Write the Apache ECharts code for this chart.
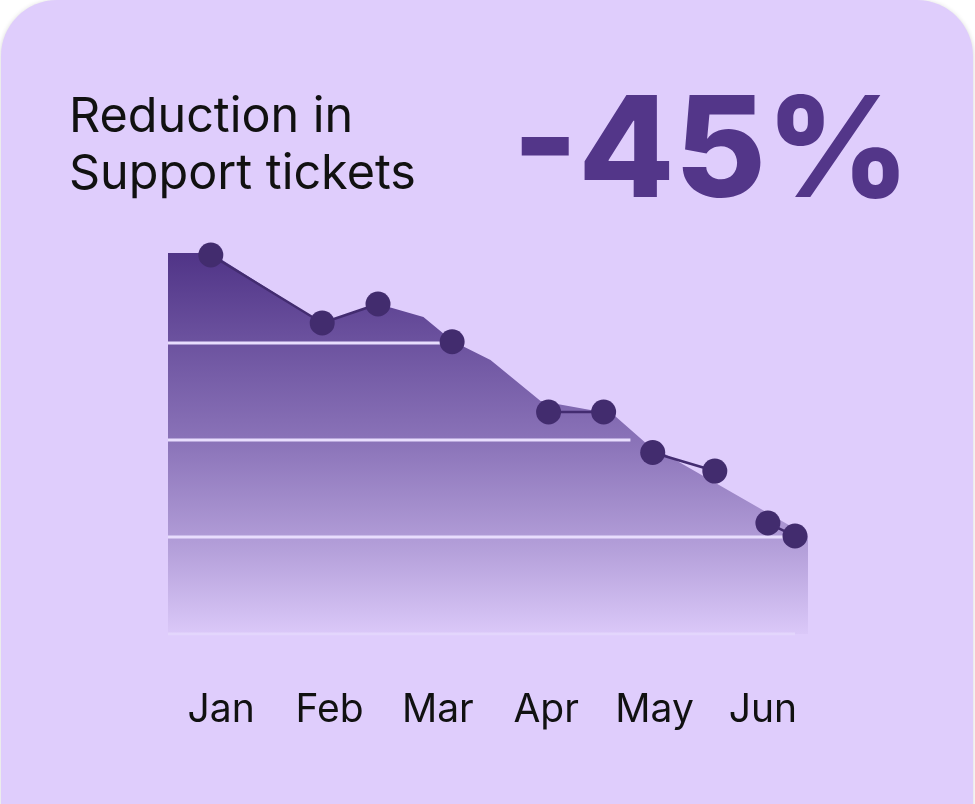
<!DOCTYPE html>
<html>
<head>
<meta charset="utf-8">
<script src="https://cdn.jsdelivr.net/npm/echarts@6/dist/echarts.min.js"></script>
<style>
  html, body { margin: 0; padding: 0; background: #ffffff; }
  #chart { width: 975px; height: 804px; }
</style>
</head>
<body>
<div id="chart"></div>
<script>
// ---- data ----
const months = ['Jan', 'Feb', 'Mar', 'Apr', 'May', 'Jun'];
// points (x in month index units, y in tickets)
const pointMonth = [-0.095, 0.933, 1.448, 2.132, 3.022, 3.530, 3.983, 4.556, 5.046, 5.296];
const pointTickets = [390.7, 320.6, 340.2, 301.3, 228.9, 228.9, 187.1, 168.0, 114.4, 101.0];
// which points are joined by a connector line
const linkedPairs = [[0, 1], [1, 2], [4, 5], [6, 7], [8, 9]];
// shaded trend area outline
const areaMonth = [-0.49, -0.092, 0.933, 1.451, 1.867, 2.135, 2.486, 2.948, 3.614, 3.919, 5.416];
const areaTickets = [392.8, 392.8, 320.6, 340.2, 326.8, 302.1, 282.5, 240.2, 226.8, 196.9, 101.0];
const gridValues = [100, 200, 300];

const xMin = -0.49, xMax = 5.416;

// ---- build ----
const areaData = areaMonth.map((x, i) => [x, areaTickets[i]]);
const dotData = pointMonth.map((x, i) => [x, pointTickets[i]]);

const linkData = [];
let last = -1;
linkedPairs.forEach(([a, b]) => {
  if (last !== a) {
    if (linkData.length) linkData.push(['-', '-']);
    linkData.push([pointMonth[a], pointTickets[a]]);
  }
  linkData.push([pointMonth[b], pointTickets[b]]);
  last = b;
});

// where a horizontal value crosses the area outline (rightmost crossing)
function areaCross(v) {
  let cross = areaMonth[areaMonth.length - 1];
  for (let i = 0; i < areaMonth.length - 1; i++) {
    const y1 = areaTickets[i], y2 = areaTickets[i + 1];
    if ((y1 - v) * (y2 - v) <= 0 && y1 !== y2) {
      cross = areaMonth[i] + (v - y1) / (y2 - y1) * (areaMonth[i + 1] - areaMonth[i]);
    }
  }
  if (v <= areaTickets[areaTickets.length - 1]) cross = areaMonth[areaMonth.length - 1];
  return cross;
}
const gridData = [];
gridValues.forEach((v, i) => {
  if (i) gridData.push(['-', '-']);
  gridData.push([xMin, v]);
  gridData.push([areaCross(v) - 0.11, v]);
});

const chart = echarts.init(document.getElementById('chart'), null, { renderer: 'canvas' });
chart.setOption({
  backgroundColor: 'transparent',
  animation: false,
  graphic: [{
    type: 'rect',
    z: -10,
    shape: { x: 1, y: 0, width: 972, height: 900, r: 56 },
    style: { fill: '#DFCDFC', shadowBlur: 5, shadowColor: 'rgba(0,0,0,0.18)', shadowOffsetY: 1 }
  }],
  title: [{
    text: 'Reduction in\nSupport tickets',
    left: 64, top: 84,
    textStyle: { fontFamily: 'Inter', fontSize: 48.5, fontWeight: 400, lineHeight: 57, color: '#111111' }
  }, {
    text: '-45%',
    right: 60, top: 80,
    textStyle: { fontFamily: 'Inter', fontSize: 140, fontWeight: 800, color: '#533689' }
  }],
  grid: { left: 168, right: 167, top: 246, bottom: 170 },
  xAxis: {
    type: 'value', min: xMin, max: xMax,
    axisLine: { show: false }, axisTick: { show: false }, splitLine: { show: false },
    axisLabel: {
      customValues: [0, 1, 2, 3, 4, 5],
      formatter: v => months[Math.round(v)],
      fontFamily: 'Inter', fontSize: 39, color: '#111111', margin: 57
    }
  },
  yAxis: {
    type: 'value', min: 0, max: 400, interval: 100,
    axisLine: { show: false }, axisTick: { show: false }, axisLabel: { show: false },
    splitLine: { show: false }
  },
  series: [{
    type: 'line', data: areaData, symbol: 'none', z: 1, silent: true,
    lineStyle: { width: 0 },
    areaStyle: {
      opacity: 1,
      color: {
        type: 'linear', x: 0, y: 0, x2: 0, y2: 1,
        colorStops: [
          { offset: 0, color: 'rgba(80,52,135,1)' },
          { offset: 0.5, color: 'rgba(83,56,140,0.6)' },
          { offset: 0.78, color: 'rgba(83,56,140,0.3)' },
          { offset: 1, color: 'rgba(83,56,140,0.03)' }
        ]
      }
    }
  }, {
    type: 'line', data: gridData, symbol: 'none', z: 2, silent: true, connectNulls: false,
    lineStyle: { color: '#E8DDFD', width: 3, opacity: 1 }
  }, {
    type: 'line', data: [[xMin, 0], [pointMonth[pointMonth.length - 1], 0]], symbol: 'none', z: 2, silent: true,
    lineStyle: { color: '#E3D6FC', width: 3, opacity: 1 }
  }, {
    type: 'line', data: linkData, symbol: 'none', z: 3, silent: true, connectNulls: false,
    lineStyle: { color: '#432C70', width: 2.5, opacity: 1 }
  }, {
    type: 'scatter', data: dotData, symbolSize: 25, z: 4, silent: true,
    itemStyle: { color: '#422C6E', opacity: 1 }
  }]
});
</script>
</body>
</html>
